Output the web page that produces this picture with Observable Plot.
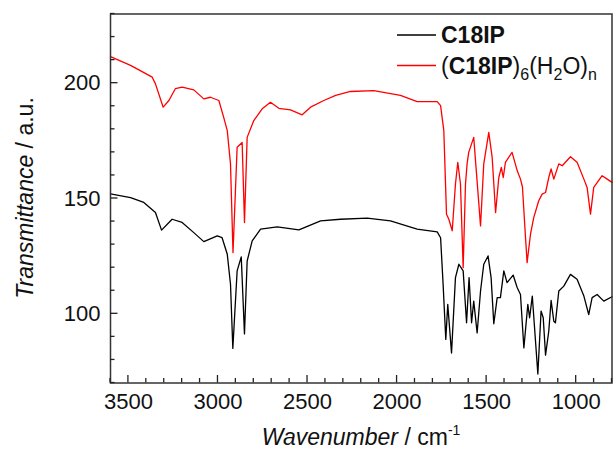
<!DOCTYPE html>
<html><head><meta charset="utf-8">
<script src="https://cdn.jsdelivr.net/npm/d3@7"></script>
<script src="https://cdn.jsdelivr.net/npm/@observablehq/plot@0.6"></script>
<style>
body{margin:0;background:#fff}
svg{font-family:Arial,"Liberation Sans",Helvetica,sans-serif}
</style>
</head><body><div id="chart"></div>
<script>
// C18IP (black)
const blackWn = [3600,3488,3414,3349,3315,3256,3200,3135,3079,3004,2977,2948,2930,2917,2893,2870,2852,2837,2809,2762,2669,2548,2427,2316,2167,2037,1888,1776,1757,1743,1728,1717,1696,1674,1655,1631,1612,1598,1584,1572,1553,1534,1516,1492,1475,1460,1441,1423,1404,1386,1352,1329,1311,1292,1270,1260,1245,1214,1196,1184,1171,1153,1140,1125,1116,1097,1069,1032,995,957,930,911,883,846,800];
const blackT  = [152,150.4,148.3,143.9,136.3,141,139.6,135.2,131.3,133.8,133,125.8,112.8,85,118.6,124.7,91.3,122.9,131.6,136.7,137.7,136.4,140.3,141,141.5,140.3,136.7,135.5,133,112.8,88.9,104.1,83,115.7,121.5,118.6,96.1,115.7,96.1,105.5,91.7,109.9,121.5,125.1,115.7,95.7,107,107,118.6,113.5,116.8,111.3,108.4,85.2,104.1,98.3,107.7,73.9,101.2,98.3,82.1,92.5,105.8,96.8,96.1,109.9,112,117.1,115,107.7,99.7,107,108.4,105.5,107.4];
// (C18IP)6(H2O)n (red)
const redWn = [3600,3488,3367,3349,3306,3274,3238,3200,3135,3079,3042,2995,2968,2948,2930,2916,2893,2865,2852,2837,2800,2753,2707,2660,2595,2530,2483,2409,2343,2260,2130,1981,1888,1776,1757,1739,1724,1711,1692,1674,1661,1646,1631,1618,1609,1600,1572,1534,1516,1488,1469,1450,1432,1418,1407,1395,1358,1329,1311,1300,1284,1274,1255,1237,1209,1190,1171,1153,1140,1125,1097,1078,1032,995,957,939,920,902,855,827,800];
const redT  = [211.5,207.7,202.6,199.7,189.6,192.5,197.6,198.3,197.1,193.2,193.9,192.5,185.2,179.4,165,126.5,172.2,174.3,139.6,176.5,183.8,188.9,191.7,189.1,188.4,186.3,189.6,192.5,194.7,196.4,196.8,194.7,192,192,190.3,179.4,143.2,141,136,156.3,165.7,156.3,120,156.3,165,170,176.5,138.1,165,178.7,167.8,143.9,159.1,163.5,159.1,165.7,170,162,158.4,155,134.5,122.2,134.5,141.7,149,151.9,152.6,159.1,162.8,158.4,165,164.2,168.1,165.7,158.4,154.8,143.2,154.8,159.9,158.4,157];

const xMajorTicks = [3500,3000,2500,2000,1500,1000];
const xMinorTicks = d3.range(800, 3601, 100);
const yMajorTicks = [100,150,200];
const yMinorTicks = d3.range(70, 231, 10);

const black = blackWn.map((w,i)=>({wn:w, t:blackT[i]}));
const red = redWn.map((w,i)=>({wn:w, t:redT[i]}));

const W = 613, H = 451, ML = 110, MR = 1.5, MT = 13.5, MB = 68.5;

const chart = Plot.plot({
  width: W, height: H,
  marginLeft: ML, marginRight: MR, marginTop: MT, marginBottom: MB,
  style: {fontFamily: "Arial, 'Liberation Sans', sans-serif", fontSize: "22px", color: "#111", background: "#fff", overflow: "visible"},
  x: {domain: [3600, 800], label: null},
  y: {domain: [70, 230], label: null},
  marks: [
    Plot.line(black, {x: "wn", y: "t", stroke: "#000", strokeWidth: 1.3}),
    Plot.line(red, {x: "wn", y: "t", stroke: "#ff0000", strokeWidth: 1.3}),
    Plot.axisX({ticks: xMajorTicks, tickSize: 0, tickPadding: 10, tickFormat: d => String(d), label: null, fontSize: 22, fill: "#111"}),
    Plot.axisY({ticks: yMajorTicks, tickSize: 0, tickPadding: 10, tickFormat: d => String(d), label: null, fontSize: 22, fill: "#111"}),
    Plot.frame({stroke: "#333", strokeWidth: 1.5})
  ]
});

const svg = d3.select(chart);
const sx = chart.scale("x"), sy = chart.scale("y");
const x0 = ML, yB = H - MB;
// inward ticks, positioned through Plot's own scales
const tickG = svg.append("g").attr("stroke", "#222").attr("stroke-width", 1.3);
for (const v of xMinorTicks) {
  const len = xMajorTicks.includes(v) ? 7.5 : 4.5;
  const px = sx.apply(v);
  tickG.append("line").attr("x1", px).attr("x2", px).attr("y1", yB).attr("y2", yB - len);
}
for (const v of yMinorTicks) {
  const len = yMajorTicks.includes(v) ? 7.5 : 4.5;
  const py = sy.apply(v);
  tickG.append("line").attr("x1", x0).attr("x2", x0 + len).attr("y1", py).attr("y2", py);
}

// Y axis title
const yt = svg.append("text")
  .attr("transform", "translate(33,198) rotate(-90)")
  .attr("text-anchor", "middle").attr("font-size", 23).attr("fill", "#111");
yt.append("tspan").attr("font-style", "italic").text("Transmittance");
yt.append("tspan").text(" / a.u.");
// X axis title
const xt = svg.append("text")
  .attr("x", 361).attr("y", 445)
  .attr("text-anchor", "middle").attr("font-size", 23).attr("fill", "#111");
xt.append("tspan").attr("font-style", "italic").text("Wavenumber");
xt.append("tspan").text(" / cm");
xt.append("tspan").attr("dy", -10).attr("font-size", 14).text("-1");

// Legend
const legend = svg.append("g").attr("text-anchor", "start");
legend.append("line").attr("x1", 397).attr("x2", 436).attr("y1", 35).attr("y2", 35).attr("stroke", "#000").attr("stroke-width", 1.3);
legend.append("text").attr("text-anchor", "start").attr("x", 441).attr("y", 43).attr("font-size", 23).attr("font-weight", "bold").attr("fill", "#111").text("C18IP");
legend.append("line").attr("x1", 397).attr("x2", 436).attr("y1", 65.5).attr("y2", 65.5).attr("stroke", "#ff0000").attr("stroke-width", 1.3);
const l2 = legend.append("text").attr("text-anchor", "start").attr("x", 441).attr("y", 73.5).attr("font-size", 23).attr("fill", "#111");
l2.append("tspan").text("(");
l2.append("tspan").attr("font-weight", "bold").text("C18IP");
l2.append("tspan").text(")");
l2.append("tspan").attr("dy", 6).attr("font-size", 16).text("6");
l2.append("tspan").attr("dy", -6).text("(H");
l2.append("tspan").attr("dy", 6).attr("font-size", 16).text("2");
l2.append("tspan").attr("dy", -6).text("O)");
l2.append("tspan").attr("dy", 6).attr("font-size", 16).text("n");

document.getElementById("chart").appendChild(chart);
</script>
</body></html>
